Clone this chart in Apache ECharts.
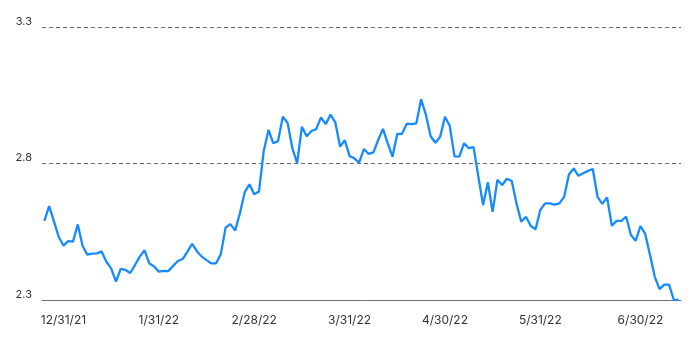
<!DOCTYPE html>
<html>
<head>
<meta charset="utf-8">
<script src="https://cdn.jsdelivr.net/npm/echarts@6/dist/echarts.min.js"></script>
<style>
html,body{margin:0;padding:0;background:#fff;}
#chart{width:700px;height:345px;}
</style>
</head>
<body>
<div id="chart"></div>
<script>
// Daily values
const values = [
  2.59, 2.644, 2.588, 2.532, 2.499, 2.516, 2.514, 2.577, 2.499, 2.466,
  2.47, 2.471, 2.478, 2.44, 2.416, 2.367, 2.414, 2.41, 2.399, 2.428,
  2.459, 2.482, 2.434, 2.423, 2.404, 2.407, 2.406, 2.425, 2.443, 2.45,
  2.477, 2.506, 2.478, 2.459, 2.446, 2.434, 2.434, 2.468, 2.565, 2.578,
  2.554, 2.618, 2.694, 2.724, 2.687, 2.697, 2.846, 2.923, 2.874, 2.882,
  2.971, 2.949, 2.856, 2.801, 2.935, 2.9, 2.919, 2.926, 2.969, 2.944,
  2.979, 2.951, 2.862, 2.885, 2.827, 2.819, 2.803, 2.853, 2.835, 2.841,
  2.886, 2.927, 2.874, 2.825, 2.908, 2.909, 2.946, 2.944, 2.947, 3.035,
  2.979, 2.9, 2.876, 2.898, 2.971, 2.938, 2.826, 2.825, 2.874, 2.856,
  2.86, 2.752, 2.648, 2.731, 2.623, 2.74, 2.721, 2.744, 2.736, 2.654,
  2.587, 2.605, 2.571, 2.559, 2.63, 2.654, 2.654, 2.649, 2.654, 2.678,
  2.76, 2.782, 2.755, 2.764, 2.773, 2.78, 2.678, 2.652, 2.676, 2.572,
  2.59, 2.59, 2.605, 2.538, 2.517, 2.571, 2.542, 2.465, 2.385, 2.34,
  2.356, 2.356, 2.3, 2.3
];
// Category positions (one per observation)
const categories = values.map((_, i) => i);
// X tick labels and the observation index each sits on
const tickLabels = ['12/31/21', '1/31/22', '2/28/22', '3/31/22', '4/30/22', '5/31/22', '6/30/22'];
const tickIndex = [4, 24, 44, 64, 84, 104, 125];
// Y ticks
const yMin = 2.3, yMax = 3.3, yStep = 0.5;

const chart = echarts.init(document.getElementById('chart'), null, {renderer: 'canvas'});
chart.setOption({
  animation: false,
  grid: {left: 42, right: 19, top: 27, bottom: 45},
  xAxis: {
    type: 'category',
    data: categories,
    boundaryGap: true,
    axisLine: {show: true, lineStyle: {color: '#6e7079', width: 1}},
    axisTick: {show: false},
    splitLine: {show: false},
    axisLabel: {
      interval: (idx) => tickIndex.indexOf(idx) >= 0,
      formatter: (val, idx) => {
        const k = tickIndex.indexOf(Number(val));
        return k >= 0 ? tickLabels[k] : '';
      },
      color: '#333',
      fontFamily: 'Inter, "Noto Sans", sans-serif',
      fontSize: 12,
      margin: 14
    }
  },
  yAxis: {
    type: 'value',
    min: yMin,
    max: yMax,
    interval: yStep,
    axisLine: {show: false},
    axisTick: {show: false},
    splitLine: {show: true, lineStyle: {color: '#6e7079', type: [4, 3], width: 1}},
    axisLabel: {
      formatter: (v) => v.toFixed(1),
      color: '#333',
      fontFamily: 'Inter, "Noto Sans", sans-serif',
      fontSize: 11,
      margin: 10,
      verticalAlign: 'bottom',
      lineHeight: 11
    }
  },
  series: [{
    type: 'line',
    data: values,
    showSymbol: false,
    symbol: 'none',
    lineStyle: {color: '#168bff', width: 2.3},
    clip: true
  }]
});
</script>
</body>
</html>
